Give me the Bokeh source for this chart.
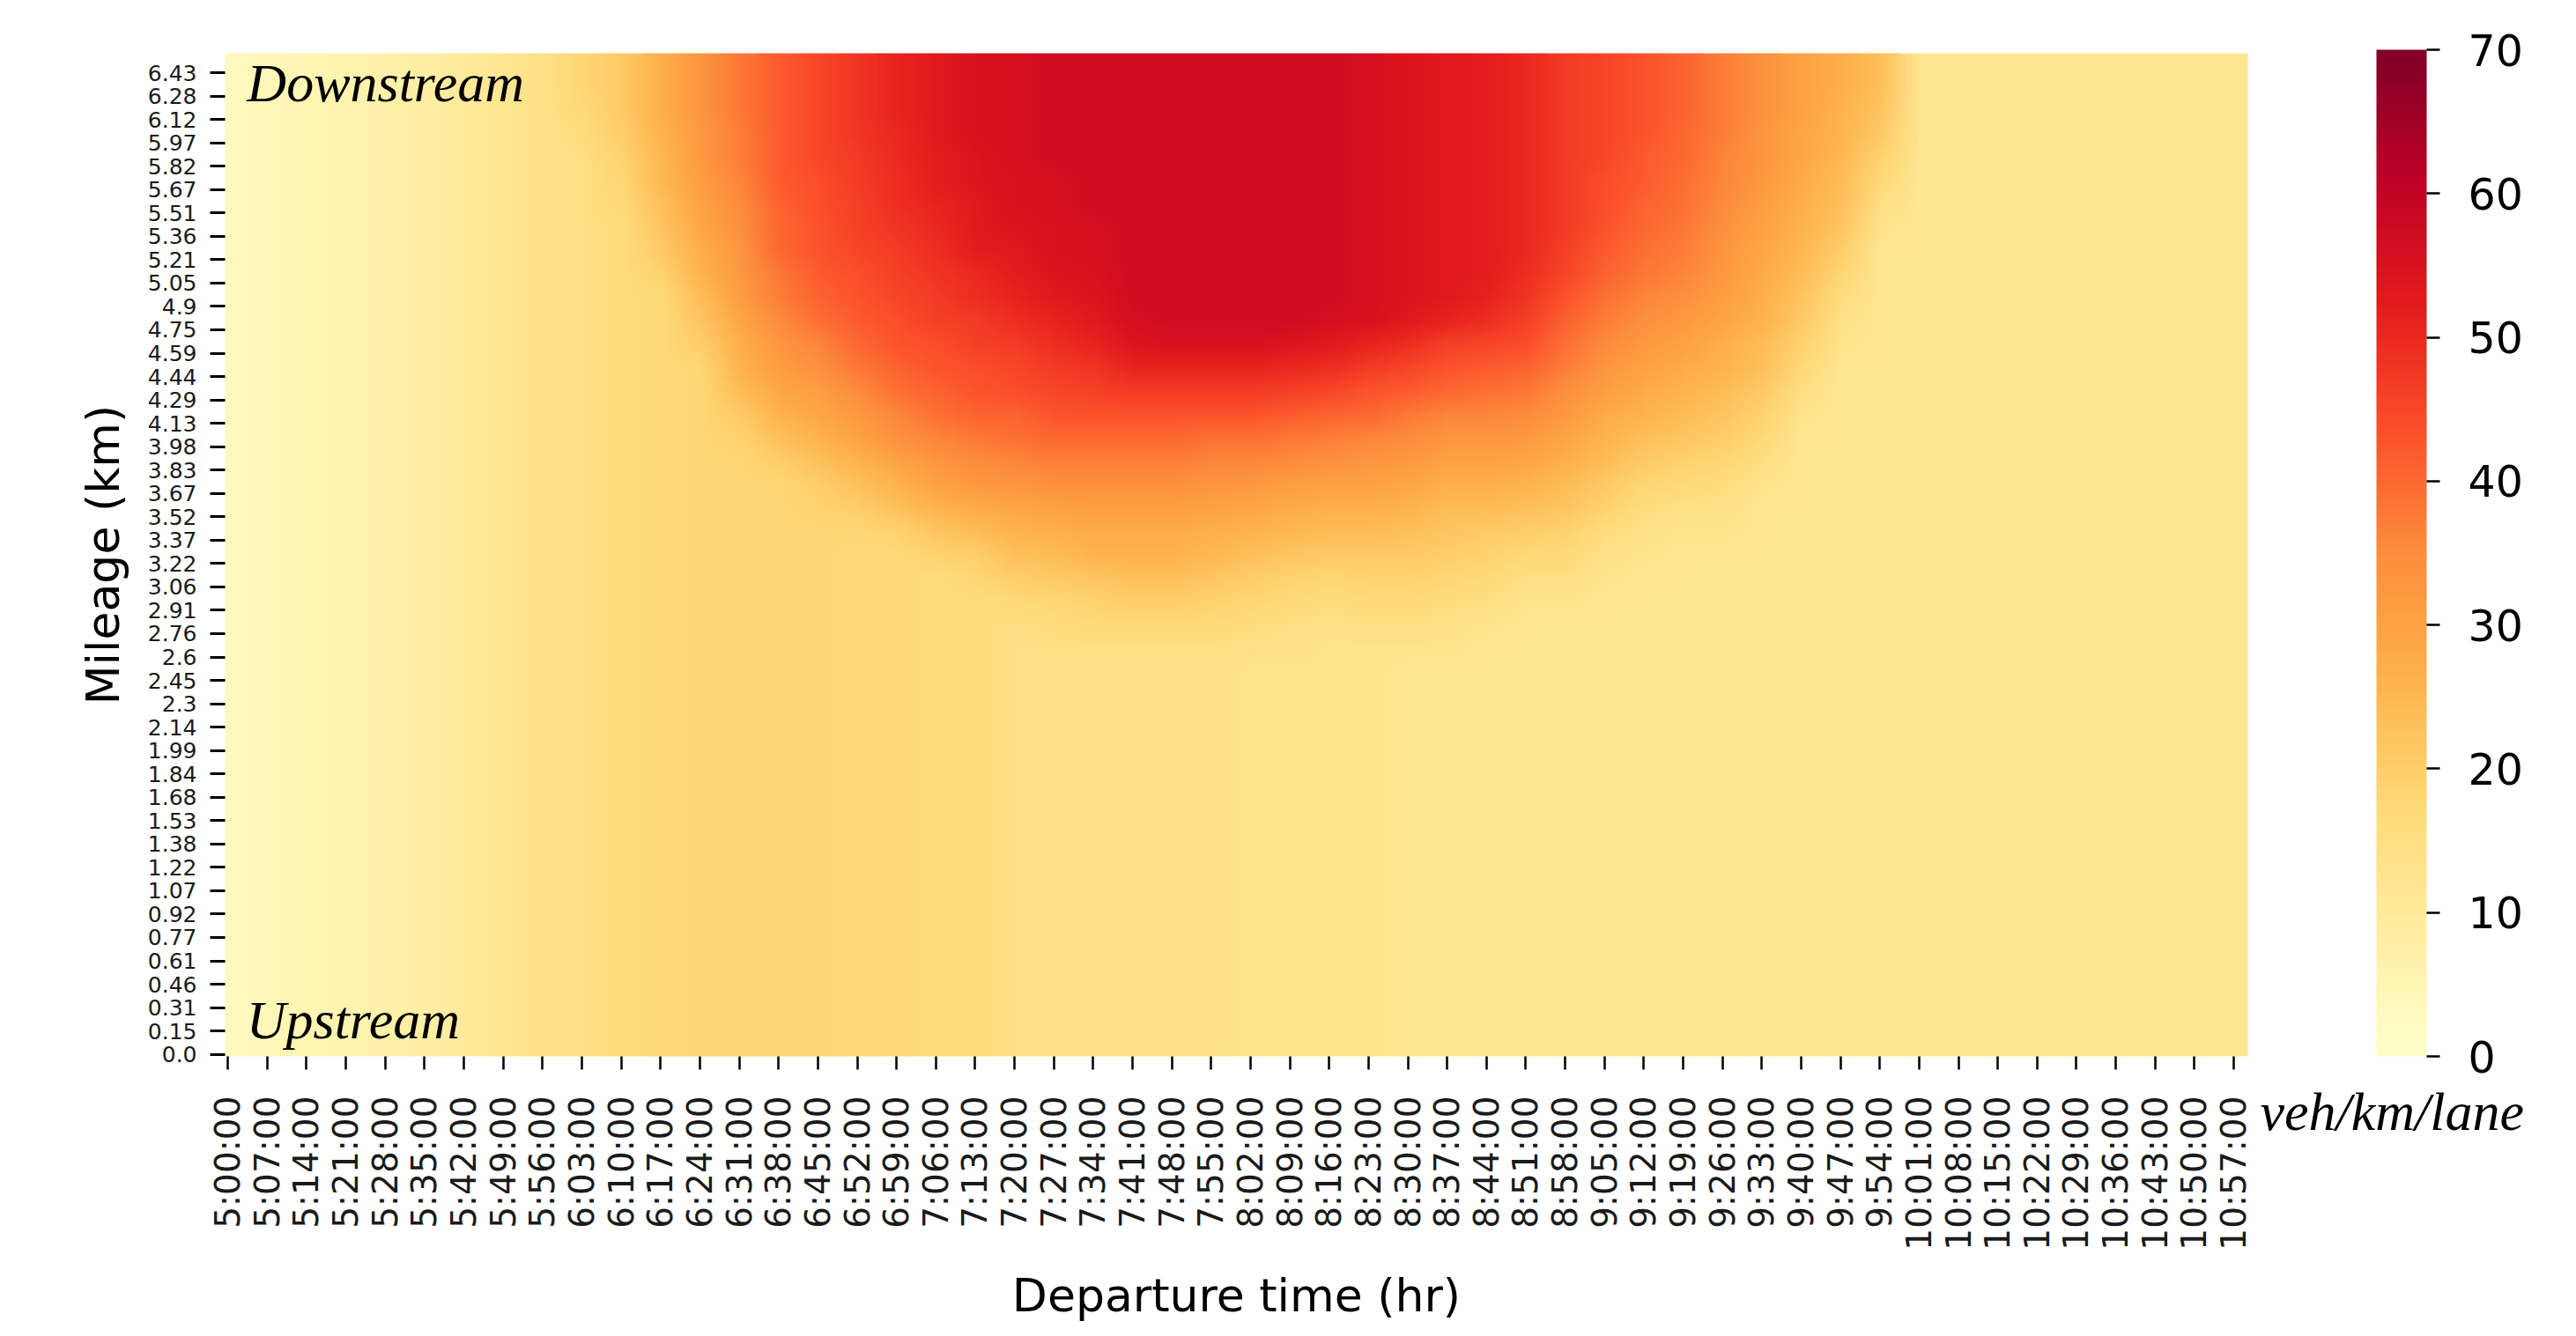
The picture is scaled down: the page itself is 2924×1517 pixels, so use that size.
import math
import zlib
import struct
import base64
import numpy as np
from bokeh.plotting import figure
from bokeh.models import LinearColorMapper, ColorBar, FixedTicker, Label, Range1d
from bokeh.embed import file_html
from bokeh.resources import INLINE

# ---------------- data ----------------
departure_times = ["5:00:00", "5:07:00", "5:14:00", "5:21:00", "5:28:00", "5:35:00", "5:42:00",
                   "5:49:00", "5:56:00", "6:03:00", "6:10:00", "6:17:00", "6:24:00", "6:31:00",
                   "6:38:00", "6:45:00", "6:52:00", "6:59:00", "7:06:00", "7:13:00", "7:20:00",
                   "7:27:00", "7:34:00", "7:41:00", "7:48:00", "7:55:00", "8:02:00", "8:09:00",
                   "8:16:00", "8:23:00", "8:30:00", "8:37:00", "8:44:00", "8:51:00", "8:58:00",
                   "9:05:00", "9:12:00", "9:19:00", "9:26:00", "9:33:00", "9:40:00", "9:47:00",
                   "9:54:00", "10:01:00", "10:08:00", "10:15:00", "10:22:00", "10:29:00",
                   "10:36:00", "10:43:00", "10:50:00", "10:57:00"]

mileage_km = ["0.0", "0.15", "0.31", "0.46", "0.61", "0.77", "0.92", "1.07", "1.22", "1.38",
              "1.53", "1.68", "1.84", "1.99", "2.14", "2.3", "2.45", "2.6", "2.76", "2.91",
              "3.06", "3.22", "3.37", "3.52", "3.67", "3.83", "3.98", "4.13", "4.29", "4.44",
              "4.59", "4.75", "4.9", "5.05", "5.21", "5.36", "5.51", "5.67", "5.82", "5.97",
              "6.12", "6.28", "6.43"]

colorbar_ticks = [0, 10, 20, 30, 40, 50, 60, 70]

# density (veh/km/lane): one profile per departure time, from 6.43 km (top) down to 0.0 km
density_columns = [
    [3,3,3,3,3,3,3,3,3,3, 3,3,3,3,3,3,3,3,3,3, 3,3,3,3,3,3,3,3,3,3, 3,3,3,3,3,3,3,3,3,3, 3,3,3],
    [4,4,4,4,4,4,4,4,4,4, 4,4,4,4,4,4,4,4,4,4, 4,4,4,4,4,4,4,4,4,4, 4,4,4,4,4,4,4,4,4,4, 4,4,4],
    [5,5,5,5,5,5,5,5,5,5, 5,5,5,5,5,5,5,5,5,5, 5,5,5,5,5,5,5,5,5,5, 5,5,5,5,5,5,5,5,5,5, 5,5,5],
    [6,6,6,6,6,6,6,6,6,6, 6,6,6,6,6,6,6,6,6,6, 6,6,6,6,6,6,6,6,6,6, 6,6,6,6,6,6,6,6,6,6, 6,6,6],
    [7,7,7,7,7,7,7,7,7,7, 7,7,7,7,7,7,7,7,7,7, 7,7,7,7,7,7,7,7,7,7, 7,7,7,7,7,7,7,7,7,7, 7,7,7],
    [8,8,8,8,8,8,8,8,8,8, 8,8,8,8,8,8,8,8,8,8, 8,8,8,8,8,8,8,8,8,8, 8,8,8,8,8,8,8,8,8,8, 8,8,8],
    [10,10,10,10,10,10,10,10,10,10, 10,10,10,10,10,10,10,10,10,10, 10,10,10,10,10,10,10,10,10,10, 10,10,10,10,10,10,10,10,10,10, 10,10,10],
    [12,12,12,12,12,12,12,12,12,12, 12,12,12,12,12,12,12,12,12,12, 12,12,12,12,12,12,12,12,12,12, 12,12,12,12,12,12,12,12,12,12, 12,12,12],
    [14,14,14,14,14,14,14,14,14,14, 14,14,14,14,14,14,14,14,14,14, 14,14,14,14,14,14,14,14,14,14, 14,14,14,14,14,14,14,14,14,14, 14,14,14],
    [18,18,17,16, 15,15,15,15,15,15,15,15,15,15, 15,15,15,15,15,15,15,15,15,15, 15,15,15,15,15,15,15,15,15,15, 15,15,15,15,15,15,15,15,15],
    [21,21,21,20,19,18,17, 16,16,16,16,16,16,16,16,16,16, 16,16,16,16,16,16,16,16,16,16, 16,16,16,16,16,16,16,16,16,16, 16,16,16,16,16,16],
    [27,27,27,26,25,25,23,22,21,19, 17,17,17,17,17,17,17,17,17,17, 17,17,17,17,17,17,17,17,17,17, 17,17,17,17,17,17,17,17,17,17, 17,17,17],
    [33,33,33,32,32,31,30,29,27,26,24,22,20, 18,18,18,18,18,18,18,18,18,18, 18,18,18,18,18,18,18,18,18,18, 18,18,18,18,18,18,18,18,18,18],
    [38,38,38,37,37,36,35,34,33,32,31,29,27,26,24,21,19, 18,18,18,18,18,18,18,18,18,18, 18,18,18,18,18,18,18,18,18,18, 18,18,18,18,18,18],
    [42,42,42,42,42,42,41,40,40,38,37,35,33,31,29,26,23,20, 18,18,18,18,18,18,18,18,18,18, 18,18,18,18,18,18,18,18,18,18, 18,18,18,18,18],
    [45,45,45,45,45,44,44,43,43,42,41,39,36,34,31,29,26,23,20,19, 18,18,18,18,18,18,18,18,18,18, 18,18,18,18,18,18,18,18,18,18, 18,18,18],
    [48,48,48,48,47,47,46,46,45,44,43,42,40,38,35,32,30,26,23,20,18, 17,17,17,17,17,17,17,17,17,17, 17,17,17,17,17,17,17,17,17,17, 17,17],
    [51,51,51,50,50,49,49,48,47,46,45,44,43,41,39,36,34,30,26,23,19, 17,17,17,17,17,17,17,17,17,17, 17,17,17,17,17,17,17,17,17,17, 17,17],
    [53,53,53,53,52,52,51,50,49,48,47,46,44,43,41,39,36,33,30,26,22,19, 16,16,16,16,16,16,16,16,16,16, 16,16,16,16,16,16,16,16,16,16, 16],
    [55,55,55,55,54,54,53,53,52,50,49,47,46,44,43,41,38,35,32,28,24,20,18, 16,16,16,16,16,16,16,16,16,16, 16,16,16,16,16,16,16,16,16,16],
    [56,56,56,56,56,55,55,54,53,52,51,49,47,45,44,41,39,36,33,29,26,23,20,17, 15,15,15,15,15,15,15,15,15,15, 15,15,15,15,15,15,15,15,15],
    [57,57,57,57,57,56,56,55,55,54,53,51,49,47,45,43,40,37,34,30,27,24,21,18,16, 15,15,15,15,15,15,15,15,15,15, 15,15,15,15,15,15,15,15],
    [57,57,57,57,57,57,57,56,56,55,54,53,51,48,46,43,40,37,34,31,28,26,22,19,17, 15,15,15,15,15,15,15,15,15,15, 15,15,15,15,15,15,15,15],
    [57,57,57,57,57,57,57,57,57,57,57, 56,54,51,47,43,40,37,34,31,28,26,23,20,17,15, 14,14,14,14,14,14,14,14,14,14, 14,14,14,14,14,14,14],
    [57,57,57,57,57,57,57,57,57,57,57,57, 55,51,47,43,40,37,34,31,28,26,23,20,17,15, 14,14,14,14,14,14,14,14,14,14, 14,14,14,14,14,14,14],
    [57,57,57,57,57,57,57,57,57,57,57,57, 55,51,47,43,39,36,33,30,27,25,22,19,17,15, 14,14,14,14,14,14,14,14,14,14, 14,14,14,14,14,14,14],
    [57,57,57,57,57,57,57,57,57,57,57,57, 55,51,47,43,39,36,32,29,26,23,20,18,16,14, 13,13,13,13,13,13,13,13,13,13, 13,13,13,13,13,13,13],
    [57,57,57,57,57,57,57,57,57,57,57,57, 54,50,46,42,38,35,31,28,25,22,19,17,15,14, 13,13,13,13,13,13,13,13,13,13, 13,13,13,13,13,13,13],
    [57,57,57,57,57,57,57,57,57,57,57, 56,53,49,45,41,37,34,30,27,24,21,18,16,14, 13,13,13,13,13,13,13,13,13,13, 13,13,13,13,13,13,13,13],
    [56,56,56,56,56,56,56,56,56,56,56, 55,51,47,43,40,36,33,30,27,24,21,19,17,15, 13,13,13,13,13,13,13,13,13,13, 13,13,13,13,13,13,13,13],
    [54,54,54,54,54,54,54,54,54,54,54, 53,49,45,42,38,35,32,29,26,23,21,19,17,15,13, 12,12,12,12,12,12,12,12,12,12, 12,12,12,12,12,12,12],
    [53,53,53,53,53,53,53,53,53,53,53, 51,46,43,40,36,33,30,27,24,22,20,18,16,14,13, 12,12,12,12,12,12,12,12,12,12, 12,12,12,12,12,12,12],
    [52,52,52,52,52,52,52,52,52,52, 51,49,45,42,39,36,33,30,27,24,21,19,17,15,13, 12,12,12,12,12,12,12,12,12,12, 12,12,12,12,12,12,12,12],
    [50,50,50,50,50,50,50,50,50, 49,48,46,44,41,38,35,32,29,26,23,20,17,15,13, 12,12,12,12,12,12,12,12,12,12, 12,12,12,12,12,12,12,12,12],
    [47,47,47,47,47,47,47,47, 46,45,43,41,39,37,34,32,29,27,24,22,19,17,15,13, 12,12,12,12,12,12,12,12,12,12, 12,12,12,12,12,12,12,12,12],
    [45,45,45,45,45,44,44,43,42,41,39,37,35,33,31,28,26,24,21,19,16,14,13, 12,12,12,12,12,12,12,12,12,12, 12,12,12,12,12,12,12,12,12,12],
    [43,43,43,43,42,42,41,40,39,38,36,34,32,30,28,26,23,21,18,16,14,13, 12,12,12,12,12,12,12,12,12,12, 12,12,12,12,12,12,12,12,12,12, 12],
    [41,41,41,40,40,39,39,38,37,36,34,32,30,28,26,24,22,19,17,14,13, 12,12,12,12,12,12,12,12,12,12, 12,12,12,12,12,12,12,12,12,12, 12,12],
    [37,37,37,37,36,36,35,34,33,32,31,29,27,26,24,22,20,18,16,14,13, 12,12,12,12,12,12,12,12,12,12, 12,12,12,12,12,12,12,12,12,12, 12,12],
    [34,34,34,33,33,32,31,30,29,28,27,26,24,23,21,19,17,15,13, 12,12,12,12,12,12,12,12,12,12, 12,12,12,12,12,12,12,12,12,12, 12,12,12,12],
    [30,30,30,29,29,28,27,26,25,24,22,21,19,17,15,13, 12,12,12,12,12,12,12,12,12,12, 12,12,12,12,12,12,12,12,12,12, 12,12,12,12,12,12,12],
    [27,27,26,26,25,24,23,22,20,18,16,14,13, 12,12,12,12,12,12,12,12,12,12, 12,12,12,12,12,12,12,12,12,12, 12,12,12,12,12,12,12,12,12,12],
    [23,23,22,21,19,17,15,13, 12,12,12,12,12,12,12,12,12,12, 12,12,12,12,12,12,12,12,12,12, 12,12,12,12,12,12,12,12,12,12, 12,12,12,12,12],
    [12,12,12,12,12,12,12,12,12,12, 12,12,12,12,12,12,12,12,12,12, 12,12,12,12,12,12,12,12,12,12, 12,12,12,12,12,12,12,12,12,12, 12,12,12],
    [12,12,12,12,12,12,12,12,12,12, 12,12,12,12,12,12,12,12,12,12, 12,12,12,12,12,12,12,12,12,12, 12,12,12,12,12,12,12,12,12,12, 12,12,12],
    [12,12,12,12,12,12,12,12,12,12, 12,12,12,12,12,12,12,12,12,12, 12,12,12,12,12,12,12,12,12,12, 12,12,12,12,12,12,12,12,12,12, 12,12,12],
    [12,12,12,12,12,12,12,12,12,12, 12,12,12,12,12,12,12,12,12,12, 12,12,12,12,12,12,12,12,12,12, 12,12,12,12,12,12,12,12,12,12, 12,12,12],
    [12,12,12,12,12,12,12,12,12,12, 12,12,12,12,12,12,12,12,12,12, 12,12,12,12,12,12,12,12,12,12, 12,12,12,12,12,12,12,12,12,12, 12,12,12],
    [12,12,12,12,12,12,12,12,12,12, 12,12,12,12,12,12,12,12,12,12, 12,12,12,12,12,12,12,12,12,12, 12,12,12,12,12,12,12,12,12,12, 12,12,12],
    [12,12,12,12,12,12,12,12,12,12, 12,12,12,12,12,12,12,12,12,12, 12,12,12,12,12,12,12,12,12,12, 12,12,12,12,12,12,12,12,12,12, 12,12,12],
    [12,12,12,12,12,12,12,12,12,12, 12,12,12,12,12,12,12,12,12,12, 12,12,12,12,12,12,12,12,12,12, 12,12,12,12,12,12,12,12,12,12, 12,12,12],
    [12,12,12,12,12,12,12,12,12,12, 12,12,12,12,12,12,12,12,12,12, 12,12,12,12,12,12,12,12,12,12, 12,12,12,12,12,12,12,12,12,12, 12,12,12],
]

# ---------------- colour map (matplotlib YlOrRd anchors) ----------------
ylorrd_anchors = ["#ffffcc", "#ffeda0", "#fed976", "#feb24c", "#fd8d3c",
                  "#fc4e2a", "#e31a1c", "#bd0026", "#800026"]


def _rgb(h):
    return [int(h[i:i + 2], 16) for i in (1, 3, 5)]


palette = []
for k in range(256):
    t = k / 255 * (len(ylorrd_anchors) - 1)
    i = min(int(t), len(ylorrd_anchors) - 2)
    f = t - i
    a, b = _rgb(ylorrd_anchors[i]), _rgb(ylorrd_anchors[i + 1])
    palette.append("#%02x%02x%02x" % tuple(int(round(a[j] + (b[j] - a[j]) * f)) for j in range(3)))

low, high = colorbar_ticks[0], colorbar_ticks[-1]
mapper = LinearColorMapper(palette=palette, low=low, high=high)

# ---------------- geometry from the data ----------------
minutes = []
for s in departure_times:
    h, m, _ = s.split(":")
    minutes.append(int(h) * 60 + int(m) - 5 * 60)
step = minutes[1] - minutes[0]
n_rows = len(mileage_km)

cols = []
for c in density_columns:
    c = list(c)[:n_rows]
    while len(c) < n_rows:
        c.append(c[-1])
    cols.append(c)
grid_top_down = np.array(cols, dtype=float).T          # row 0 = 6.43 km
grid = grid_top_down[::-1].copy()                        # row 0 = 0.0 km (bokeh image order)


# same colour lookup as the LinearColorMapper, written into a small PNG so the
# browser can draw the heat map smoothly (like the original raster)
def _colour_of(v):
    n = len(palette)
    idx = int(math.floor((v - low) / (high - low) * n))
    return _rgb(palette[max(0, min(n - 1, idx))])


def _png_data_url(values):
    hgt, wid = values.shape
    raw = bytearray()
    for r in range(hgt):
        raw.append(0)
        for cc in range(wid):
            raw += bytes(_colour_of(values[r, cc]))

    def chunk(tag, data):
        return (struct.pack(">I", len(data)) + tag + data
                + struct.pack(">I", zlib.crc32(tag + data) & 0xFFFFFFFF))

    png = (b"\x89PNG\r\n\x1a\n"
           + chunk(b"IHDR", struct.pack(">IIBBBBB", wid, hgt, 8, 2, 0, 0, 0))
           + chunk(b"IDAT", zlib.compress(bytes(raw), 9))
           + chunk(b"IEND", b""))
    return "data:image/png;base64," + base64.b64encode(png).decode("ascii")


p = figure(width=2900, height=1503,
           x_range=Range1d(minutes[0] - 0.5, minutes[-1] + 2.5),
           y_range=Range1d(-0.087, n_rows - 1 + 0.83),
           output_backend="svg", toolbar_location=None,
           min_border_left=255, min_border_right=349, min_border_top=60, min_border_bottom=300)

x0 = minutes[0] - step / 2
y0 = -0.1
p.image(image=[grid], x=x0, y=y0, dw=step * len(minutes), dh=n_rows, color_mapper=mapper)
p.image_url(url=[_png_data_url(grid_top_down)], x=x0, y=y0, w=step * len(minutes), h=n_rows,
            anchor="bottom_left")

p.grid.visible = False
p.outline_line_color = None
p.background_fill_color = "white"

# x axis
xa = p.xaxis[0]
xa.ticker = FixedTicker(ticks=minutes)
xa.major_label_overrides = {m: t for m, t in zip(minutes, departure_times)}
xa.major_label_orientation = math.pi / 2
xa.axis_label = "Departure time (hr)"

# y axis
ya = p.yaxis[0]
ya.ticker = FixedTicker(ticks=list(range(n_rows)))
ya.major_label_overrides = {i: s for i, s in enumerate(mileage_km)}
ya.axis_label = "Mileage (km)"

for ax in (xa, ya):
    ax.axis_line_color = None
    ax.minor_tick_line_color = None
    ax.major_tick_in = 0
    ax.major_tick_line_color = "black"
    ax.major_label_text_font = "DejaVu Sans"
    ax.major_label_text_color = "#1a1a1a"
    ax.axis_label_text_font = "DejaVu Sans"
    ax.axis_label_text_font_style = "normal"
    ax.axis_label_text_font_size = "52px"
    ax.axis_label_text_color = "black"

xa.major_tick_out = 15
xa.major_tick_line_width = 2.5
xa.major_label_text_font_size = "39px"
xa.major_label_standoff = 30
xa.axis_label_standoff = 18

ya.major_tick_out = 17
ya.major_tick_line_width = 3
ya.major_label_text_font_size = "25px"
ya.major_label_standoff = 15
ya.axis_label_standoff = 18

# colour bar
cb = ColorBar(color_mapper=mapper, ticker=FixedTicker(ticks=colorbar_ticks),
              location=(2442, 0), width=57, height=1143, padding=0, margin=0,
              major_tick_in=0, major_tick_out=15, major_tick_line_color="black",
              major_tick_line_width=2.5, minor_tick_line_color=None,
              major_label_text_font="DejaVu Sans", major_label_text_font_size="49px",
              major_label_text_color="black", label_standoff=32,
              bar_line_color=None, border_line_color=None, background_fill_alpha=0)
p.add_layout(cb)

# annotations
serif = "Liberation Serif"
p.add_layout(Label(x=3.4, y=41.57, text="Downstream", text_font=serif, text_font_style="italic",
                   text_font_size="62px", text_baseline="middle", text_color="black"))
p.add_layout(Label(x=3.3, y=1.49, text="Upstream", text_font=serif, text_font_style="italic",
                   text_font_size="62px", text_baseline="middle", text_color="black"))

# unit text under the colour bar (outside the frame -> side panel, not clipped)
p.add_layout(Label(x=14, y=-62, x_units="screen", y_units="screen", text="veh/km/lane",
                   text_font=serif, text_font_style="italic", text_font_size="62px",
                   text_baseline="middle", text_color="black"), "right")

open("out.html", "w").write(file_html(p, INLINE))
